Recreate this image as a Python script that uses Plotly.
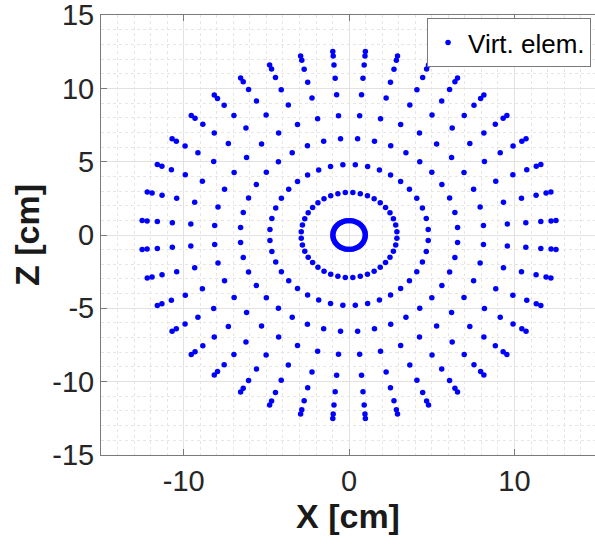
import numpy as np
import plotly.graph_objects as go

# ---- data (polar layout of virtual elements, cm / degrees) ----
inner_radius = 0.98
inner_angles_deg = [0, 7.5, 15, 22.5, 30, 37.5, 45, 52.5, 60, 67.5, 75, 82.5,
                    90, 97.5, 105, 112.5, 120, 127.5, 135, 142.5, 150, 157.5, 165, 172.5,
                    180, 187.5, 195, 202.5, 210, 217.5, 225, 232.5, 240, 247.5, 255, 262.5,
                    270, 277.5, 285, 292.5, 300, 307.5, 315, 322.5, 330, 337.5, 345, 352.5]

ring_radii = [2.9, 4.8, 6.58, 8.15, 9.6, 10.72, 11.63, 12.25, 12.55]
spoke_angles_deg = [4.5, 13.5, 22.5, 31.5, 40.5, 49.5, 58.5, 67.5, 76.5, 85.5,
                    94.5, 103.5, 112.5, 121.5, 130.5, 139.5, 148.5, 157.5, 166.5, 175.5,
                    184.5, 193.5, 202.5, 211.5, 220.5, 229.5, 238.5, 247.5, 256.5, 265.5,
                    274.5, 283.5, 292.5, 301.5, 310.5, 319.5, 328.5, 337.5, 346.5, 355.5]

x_ticks = [-10, 0, 10]
z_ticks = [-15, -10, -5, 0, 5, 10, 15]

# polar -> cartesian
xs, zs = [], []
for a in inner_angles_deg:
    t = np.deg2rad(a)
    xs.append(inner_radius * np.cos(t))
    zs.append(inner_radius * np.sin(t))
for r in ring_radii:
    for a in spoke_angles_deg:
        t = np.deg2rad(a)
        xs.append(r * np.cos(t))
        zs.append(r * np.sin(t))

FONT = "Liberation Sans, Arial, Helvetica, sans-serif"

fig = go.Figure()
fig.add_trace(go.Scatter(
    x=xs, y=zs, mode="markers", name="Virt. elem.",
    marker=dict(color="#0000ff", size=5.5, line=dict(width=0)),
))

axis_common = dict(
    showline=True, linecolor="#7a7a7a", linewidth=1,
    ticks="inside", ticklen=6, tickcolor="#7a7a7a",
    showgrid=True, gridcolor="#e2e2e2", gridwidth=1,
    zeroline=False,
    ticklabeloverflow="allow",
    tickfont=dict(family=FONT, size=29, color="#262626"),
)

fig.update_layout(
    width=595, height=550,
    margin=dict(l=101, r=0, t=15, b=95),
    paper_bgcolor="white", plot_bgcolor="white",
    showlegend=True,
    legend=dict(
        x=0.66, y=0.993, xanchor="left", yanchor="top",
        bgcolor="white", bordercolor="#7a7a7a", borderwidth=1,
        font=dict(family=FONT, size=26, color="#000000"),
        itemsizing="trace",
    ),
    xaxis=dict(
        **axis_common,
        range=[-15, 14.87], tickvals=x_ticks, ticktext=[str(v) for v in x_ticks],
        mirror="ticks",
        minor=dict(dtick=1, tick0=0, showgrid=True, gridcolor="#e6e6e6", griddash="dot", ticks=""),
        title=dict(text="<b>X [cm]</b>", font=dict(family=FONT, size=34, color="#1a1a1a"), standoff=8),
    ),
    yaxis=dict(
        **axis_common,
        range=[-15.002, 15.002], tickvals=z_ticks, ticktext=[str(v) for v in z_ticks],
        mirror=False,
        minor=dict(dtick=1, tick0=0, showgrid=True, gridcolor="#e6e6e6", griddash="dot", ticks=""),
        title=dict(text="<b>Z [cm]</b>", font=dict(family=FONT, size=34, color="#1a1a1a"), standoff=2),
    ),
)

fig.write_html("out.html")
